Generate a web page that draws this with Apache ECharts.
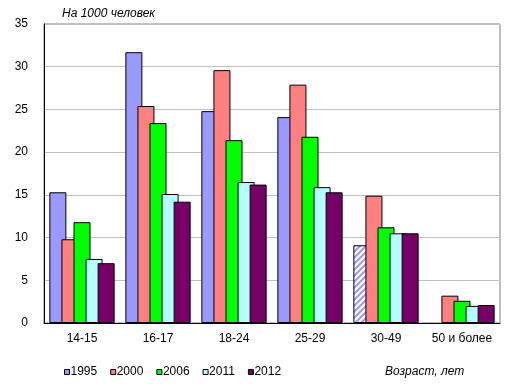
<!DOCTYPE html>
<html>
<head>
<meta charset="utf-8">
<script src="https://cdn.jsdelivr.net/npm/echarts@6/dist/echarts.min.js"></script>
<style>
html,body{margin:0;padding:0;background:#fff;}
#chart{width:516px;height:391px;}
</style>
</head>
<body>
<div id="chart"></div>
<script>
var categories = ['14-15', '16-17', '18-24', '25-29', '30-49', '50 и более'];
var years = ['1995', '2000', '2006', '2011', '2012'];
var v1995 = [15.3, 31.7, 24.8, 24.1, 9.1, null];
var v2000 = [9.8, 25.4, 29.6, 27.9, 14.9, 3.2];
var v2006 = [11.8, 23.4, 21.4, 21.8, 11.2, 2.6];
var v2011 = [7.5, 15.1, 16.5, 15.9, 10.5, 2.0];
var v2012 = [7.0, 14.2, 16.2, 15.3, 10.5, 2.1];
var hatchedIndex1995 = 4; // estimated value shown with hatching
var yTicks = [0, 5, 10, 15, 20, 25, 30, 35];

var colors = ['#9999FF', '#FF8080', '#00FF00', '#B4FFFF', '#760066'];
var FONT = 'Arial, "Liberation Sans", sans-serif';

// diagonal hatch pattern
var tile = document.createElement('canvas');
tile.width = 6; tile.height = 6;
var c = tile.getContext('2d');
c.fillStyle = '#ffffff'; c.fillRect(0, 0, 6, 6);
c.strokeStyle = '#9999FF'; c.lineWidth = 2;
c.beginPath();
c.moveTo(-1, 7); c.lineTo(7, -1);
c.moveTo(-4, 4); c.lineTo(4, -4);
c.moveTo(2, 10); c.lineTo(10, 2);
c.stroke();

var seriesVals = [v1995, v2000, v2006, v2011, v2012];
var series = seriesVals.map(function (vals, i) {
  return {
    name: years[i],
    type: 'bar',
    barWidth: 17,
    barGap: '-29%',
    barCategoryGap: 0,
    itemStyle: { color: colors[i], borderColor: '#000', borderWidth: 1 },
    data: vals.map(function (v, j) {
      if (v === null) return '-';
      if (i === 0 && j === hatchedIndex1995) {
        return { value: v, itemStyle: { color: { image: tile, repeat: 'repeat' } } };
      }
      return v;
    })
  };
});

var chart = echarts.init(document.getElementById('chart'));
chart.setOption({
  animation: false,
  grid: {
    left: 44, right: 16, top: 24, bottom: 68,
    show: true, borderColor: '#808080', borderWidth: 1
  },
  legend: {
    data: years,
    left: 64, top: 366,
    padding: 0,
    icon: 'rect',
    itemWidth: 5, itemHeight: 5,
    itemGap: 13,
    itemStyle: { borderColor: '#000', borderWidth: 1 },
    textStyle: { fontFamily: FONT, fontSize: 12, color: '#000', padding: [0, 0, 0, -4] }
  },
  xAxis: {
    type: 'category',
    data: categories,
    axisLine: { lineStyle: { color: '#000', width: 1 } },
    axisTick: { show: false },
    axisLabel: { interval: 0, fontFamily: FONT, fontSize: 12, color: '#000', margin: 10 }
  },
  yAxis: {
    type: 'value',
    min: yTicks[0], max: yTicks[yTicks.length - 1], interval: 5,
    axisLine: { show: true, lineStyle: { color: '#000', width: 1 } },
    axisTick: { show: false },
    axisLabel: { fontFamily: FONT, fontSize: 12, color: '#000', margin: 16 },
    splitLine: { lineStyle: { color: '#C0C0C0', width: 1 } }
  },
  graphic: [
    { type: 'text', left: 62, top: 8,
      style: { text: 'На 1000 человек', font: 'italic 12px ' + FONT, fill: '#000' } },
    { type: 'text', left: 385, top: 366,
      style: { text: 'Возраст, лет', font: 'italic 12px ' + FONT, fill: '#000' } }
  ],
  series: series
});
</script>
</body>
</html>
